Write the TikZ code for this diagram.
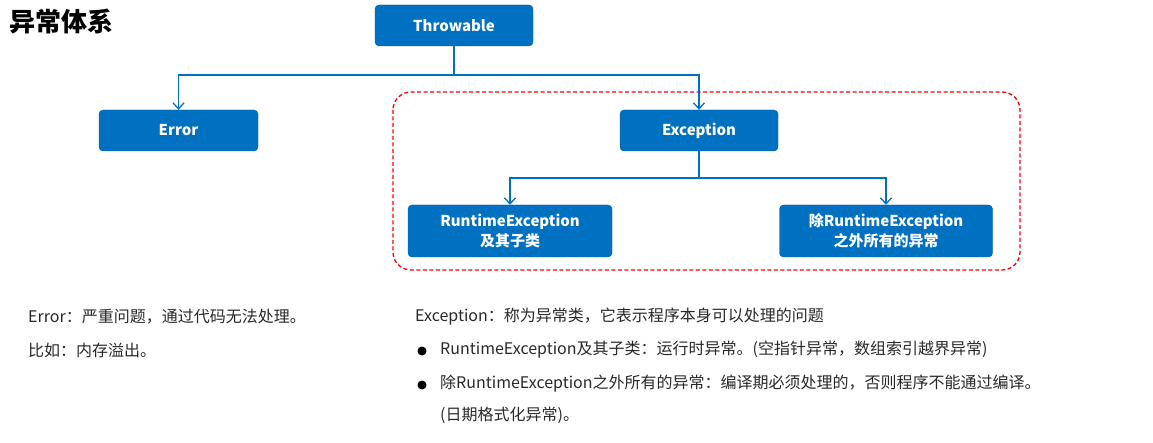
\documentclass[tikz,border=0pt]{standalone}
\usepackage{fontspec}
\setmainfont{Noto Sans CJK SC}
\usetikzlibrary{arrows.meta}
\definecolor{bx}{RGB}{0,112,192}
\definecolor{tx}{RGB}{40,40,40}
\begin{document}
\begin{tikzpicture}[x=1pt,y=-1pt,
 box/.style={draw=bx!80!black,fill=bx,rounded corners=4pt,text=white,font=\bfseries\fontsize{15}{20}\selectfont,align=center,inner sep=0pt},
 arr/.style={draw=bx,line width=1.3pt,-{Straight Barb[length=6pt,width=11pt]}},
 ln/.style={draw=bx,line width=1.3pt},
 txt/.style={anchor=west,text=tx,font=\fontsize{16}{19}\selectfont,inner sep=0pt}]
\useasboundingbox (0,0) rectangle (1153,443);
\node[anchor=west,font=\bfseries\fontsize{26}{30}\selectfont,inner sep=0pt] (title) at (9,22) {异常体系};
\node[box,minimum width=158pt,minimum height=41pt] (thr) at (454,25.5) {Throwable};
\node[box,minimum width=159pt,minimum height=41pt] (err) at (178.5,130.5) {Error};
\node[box,minimum width=158pt,minimum height=41pt] (exc) at (699,130.5) {Exception};
\node[box,minimum width=204pt,minimum height=52pt] (rt) at (510,231) {RuntimeException\\及其子类};
\node[box,minimum width=213pt,minimum height=52pt] (oth) at (886,231) {除RuntimeException\\之外所有的异常};
\draw[red,dash pattern=on 4pt off 2.5pt,line width=1.3pt,rounded corners=18pt] (393,92) rectangle (1020,270);
\coordinate (j1) at (454,75);
\coordinate (j2) at (699,178);
\draw[ln] (thr.south) -- (j1);
\draw[arr] (j1) -| (err.north);
\draw[arr] (j1) -| (exc.north);
\draw[ln] (exc.south) -- (j2);
\draw[arr] (j2) -| (rt.north);
\draw[arr] (j2) -| (oth.north);
\node[txt] (t1) at (28,317) {Error：严重问题，通过代码无法处理。};
\node[txt] (t2) at (28,350) {比如：内存溢出。};
\node[txt] (t3) at (415,317) {Exception：称为异常类，它表示程序本身可以处理的问题};
\fill[black] (422,351) circle (4.5pt);
\node[txt] (t4) at (440,350) {RuntimeException及其子类：运行时异常。(空指针异常，数组索引越界异常)};
\fill[black] (422,385) circle (4.5pt);
\node[txt] (t5) at (440,384) {除RuntimeException之外所有的异常：编译期必须处理的，否则程序不能通过编译。};
\node[txt] (t6) at (440,415) {(日期格式化异常)。};
\end{tikzpicture}
\end{document}
